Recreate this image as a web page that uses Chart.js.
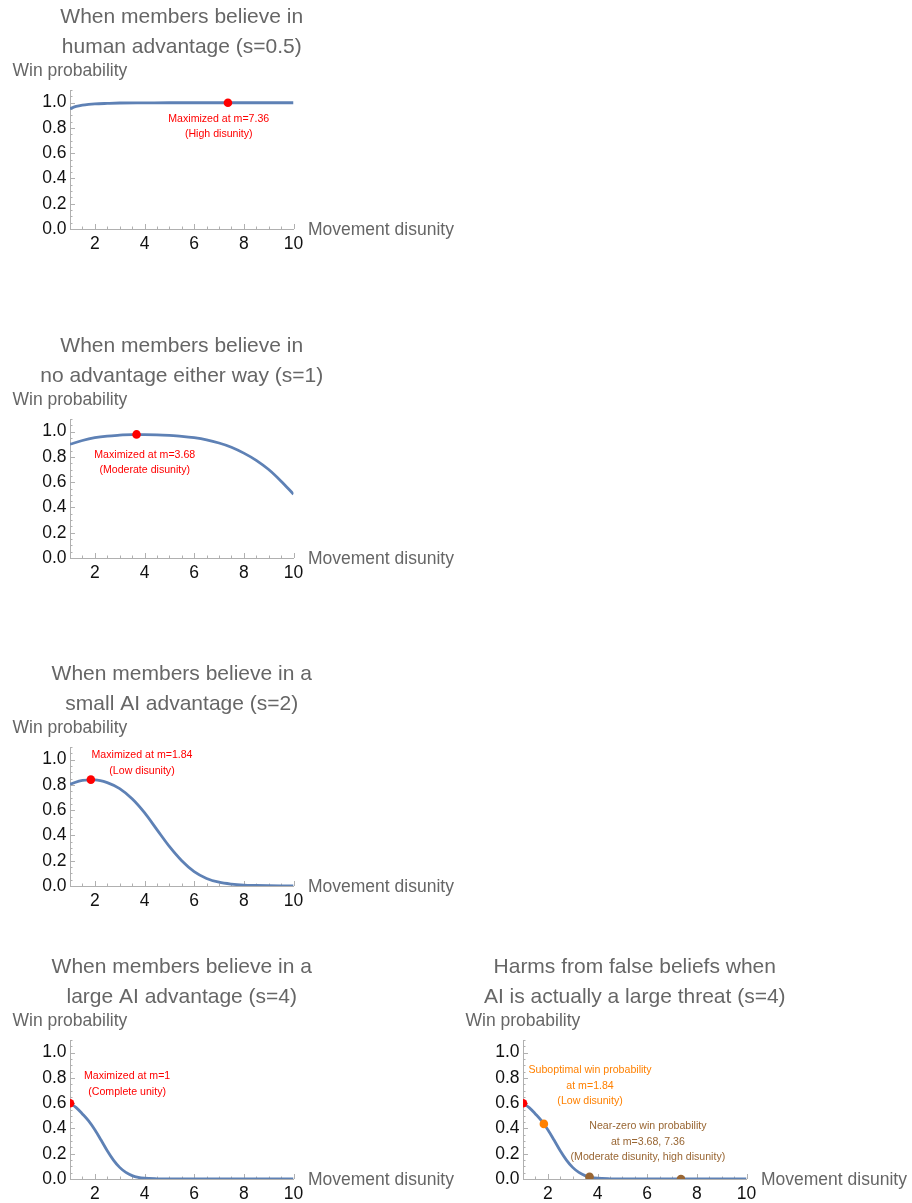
<!DOCTYPE html>
<html>
<head>
<meta charset="utf-8">
<script src="https://cdn.jsdelivr.net/npm/chart.js@4.4.1/dist/chart.umd.min.js"></script>
<style>
  html, body { margin: 0; padding: 0; background: #ffffff; width: 912px; height: 1203px; overflow: hidden; }
  .panel { position: absolute; width: 459px; height: 253px; }
  canvas { display: block; }
</style>
</head>
<body>
<div class="panel" style="left:0px;top:0px"><canvas id="c1" width="459" height="253"></canvas></div>
<div class="panel" style="left:0px;top:329px"><canvas id="c2" width="459" height="253"></canvas></div>
<div class="panel" style="left:0px;top:657px"><canvas id="c3" width="459" height="253"></canvas></div>
<div class="panel" style="left:0px;top:950px"><canvas id="c4" width="459" height="253"></canvas></div>
<div class="panel" style="left:453px;top:950px"><canvas id="c5" width="459" height="253"></canvas></div>
<script>
// ---------------- DATA ----------------
const xTickLabels = [2, 4, 6, 8, 10];
const yTickLabels = [0, 0.2, 0.4, 0.6, 0.8, 1.0];

// s = 0.5 (belief: human advantage)
const mS05   = [1, 1.25, 1.5, 1.75, 2, 2.5, 3, 4, 5, 6, 7, 8, 9, 10];
const winS05 = [0.952, 0.970, 0.980, 0.986, 0.990, 0.994, 0.997, 0.998, 0.999, 0.999, 0.999, 0.999, 0.999, 0.999];

// s = 1 (belief: no advantage)
const mS1   = [1, 1.5, 2, 2.5, 3, 3.5, 4, 4.5, 5, 5.5, 6, 6.5, 7, 7.5, 8, 8.5, 9, 9.5, 10];
const winS1 = [0.900, 0.930, 0.952, 0.965, 0.972, 0.977, 0.977, 0.975, 0.970, 0.963, 0.952, 0.935, 0.910, 0.877, 0.830, 0.773, 0.700, 0.608, 0.505];

// s = 2 (belief: small AI advantage)
const mS2   = [1, 1.5, 2, 2.5, 3, 3.5, 4, 4.5, 5, 5.5, 6, 6.5, 7, 7.5, 8, 8.5, 9, 9.5, 10];
const winS2 = [0.805, 0.836, 0.840, 0.818, 0.770, 0.690, 0.580, 0.446, 0.313, 0.200, 0.114, 0.060, 0.030, 0.015, 0.007, 0.004, 0.002, 0.001, 0.0005];

// s = 4 (belief / reality: large AI advantage)
const mS4   = [1, 1.25, 1.5, 1.75, 2, 2.25, 2.5, 2.75, 3, 3.25, 3.5, 3.75, 4, 4.5, 5, 6, 7, 8, 9, 10];
const winS4 = [0.600, 0.565, 0.515, 0.460, 0.390, 0.308, 0.224, 0.150, 0.092, 0.052, 0.027, 0.013, 0.006, 0.0015, 0.0004, 0.0001, 0, 0, 0, 0];

// optimum markers for each belief
const optimalM   = [7.36, 3.68, 1.84, 1];
const optimalWin = [0.999, 0.978, 0.842, 0.600];

// harms panel: outcomes under actual s=4 when acting on false beliefs
const suboptimalM   = [1.84];
const suboptimalWin = [0.436];
const nearZeroM     = [3.68, 7.36];
const nearZeroWin   = [0.018, 0.000];

const titles = [
  ["When members believe in", "human advantage (s=0.5)"],
  ["When members believe in", "no advantage either way (s=1)"],
  ["When members believe in a", "small AI advantage (s=2)"],
  ["When members believe in a", "large AI advantage (s=4)"],
  ["Harms from false beliefs when", "AI is actually a large threat (s=4)"]
];
const yAxisLabel = "Win probability";
const xAxisLabel = "Movement disunity";

// ---------------- STYLE ----------------
const FONT = "'Liberation Sans', Arial, Helvetica, sans-serif";
const GRAY_TEXT = '#666666';
const AXIS_COLOR = '#b0b0b0';
const CURVE = '#5e81b5';
const RED = '#ff0000';
const ORANGE = '#ff8000';
const BROWN = '#996633';

const decorPlugin = {
  id: 'decor',
  beforeDatasetsDraw(chart) {
    const { ctx, chartArea, scales: { x, y } } = chart;
    ctx.save();
    ctx.strokeStyle = AXIS_COLOR;
    ctx.lineWidth = 1;
    for (let i = 0; i <= 18; i++) {
      const v = 1 + i * 0.5;
      const px = Math.round(x.getPixelForValue(v)) + 0.5;
      const major = xTickLabels.indexOf(v) >= 0;
      const len = major ? 5 : 2.5;
      ctx.beginPath();
      ctx.moveTo(px, chartArea.bottom);
      ctx.lineTo(px, chartArea.bottom - len);
      ctx.stroke();
    }
    for (let i = 0; i <= 22; i++) {
      const v = i * 0.05;
      const py = Math.round(y.getPixelForValue(v)) + 0.5;
      const major = (i % 4 === 0) && v <= 1.0001;
      const len = major ? 5 : 2.5;
      ctx.beginPath();
      ctx.moveTo(chartArea.left, py);
      ctx.lineTo(chartArea.left + len, py);
      ctx.stroke();
    }
    ctx.restore();
  },
  afterDraw(chart, args, opts) {
    const { ctx, chartArea, scales: { x, y } } = chart;
    ctx.save();
    // title
    ctx.fillStyle = GRAY_TEXT;
    ctx.font = `21px ${FONT}`;
    ctx.textAlign = 'center';
    ctx.textBaseline = 'middle';
    const tcx = (chartArea.left + chartArea.right) / 2;
    (opts.title || []).forEach((t, i) => ctx.fillText(t, tcx, 17.5 + i * 30));
    // axis labels
    ctx.font = `17.5px ${FONT}`;
    ctx.textBaseline = 'alphabetic';
    ctx.textAlign = 'left';
    ctx.fillText(yAxisLabel, 12.5, chartArea.top - 14);
    ctx.fillText(xAxisLabel, chartArea.right + 14.5, chartArea.bottom + 6);
    // annotations
    (opts.notes || []).forEach(n => {
      ctx.fillStyle = n.color;
      ctx.font = `10.6px ${FONT}`;
      ctx.textAlign = 'center';
      ctx.textBaseline = 'middle';
      const cx = x.getPixelForValue(n.m);
      const cy = y.getPixelForValue(n.p);
      n.lines.forEach((t, i) => ctx.fillText(t, cx, cy + i * 15.5));
    });
    ctx.restore();
  }
};

function zip(ms, ps) { return ms.map((m, i) => ({ x: m, y: ps[i] })); }

function makeChart(id, titleLines, curveM, curveWin, markers, notes) {
  const markerData = [];
  const markerColors = [];
  markers.forEach(g => {
    g.m.forEach((m, i) => { markerData.push({ x: m, y: g.p[i] }); markerColors.push(g.color); });
  });
  new Chart(document.getElementById(id), {
    type: 'scatter',
    data: {
      datasets: [
        {
          data: markerData,
          showLine: false,
          pointRadius: 4.3,
          pointBorderWidth: 0,
          pointBackgroundColor: markerColors,
          pointBorderColor: markerColors,
          order: 0
        },
        {
          data: zip(curveM, curveWin),
          showLine: true,
          borderColor: CURVE,
          borderWidth: 2.8,
          pointRadius: 0,
          fill: false,
          cubicInterpolationMode: 'monotone',
          order: 1
        }
      ]
    },
    options: {
      responsive: false,
      animation: false,
      events: [],
      layout: { padding: { top: 90, left: 0, right: 165.5, bottom: 0 } },
      plugins: {
        legend: { display: false },
        tooltip: { enabled: false },
        title: { display: false },
        decor: { notes: notes, title: titleLines }
      },
      scales: {
        x: {
          type: 'linear',
          min: 1, max: 10,
          afterBuildTicks: s => { s.ticks = xTickLabels.map(v => ({ value: v })); },
          afterFit: s => { s.height = 24; },
          grid: { display: false, drawTicks: false },
          border: { display: true, color: AXIS_COLOR, width: 1 },
          ticks: { color: '#111111', font: { family: FONT, size: 17.5 }, padding: 5, maxRotation: 0, autoSkip: false, callback: v => String(v) }
        },
        y: {
          type: 'linear',
          min: 0, max: 1.1,
          afterBuildTicks: s => { s.ticks = yTickLabels.map(v => ({ value: v })); },
          afterFit: s => { s.width = 70; },
          grid: { display: false, drawTicks: false },
          border: { display: true, color: AXIS_COLOR, width: 1 },
          ticks: { color: '#111111', font: { family: FONT, size: 17.5 }, padding: 3.5, autoSkip: false, callback: v => Number(v).toFixed(1) }
        }
      }
    },
    plugins: [decorPlugin]
  });
}

makeChart('c1', titles[0], mS05, winS05,
  [{ m: [optimalM[0]], p: [optimalWin[0]], color: RED }],
  [{ m: 6.99, p: 0.870, color: RED, lines: ["Maximized at m=7.36", "(High disunity)"] }]);

makeChart('c2', titles[1], mS1, winS1,
  [{ m: [optimalM[1]], p: [optimalWin[1]], color: RED }],
  [{ m: 4.01, p: 0.817, color: RED, lines: ["Maximized at m=3.68", "(Moderate disunity)"] }]);

makeChart('c3', titles[2], mS2, winS2,
  [{ m: [optimalM[2]], p: [optimalWin[2]], color: RED }],
  [{ m: 3.90, p: 1.035, color: RED, lines: ["Maximized at m=1.84", "(Low disunity)"] }]);

makeChart('c4', titles[3], mS4, winS4,
  [{ m: [optimalM[3]], p: [optimalWin[3]], color: RED }],
  [{ m: 3.30, p: 0.812, color: RED, lines: ["Maximized at m=1", "(Complete unity)"] }]);

makeChart('c5', titles[4], mS4, winS4,
  [
    { m: nearZeroM, p: nearZeroWin, color: BROWN },
    { m: suboptimalM, p: suboptimalWin, color: ORANGE },
    { m: [optimalM[3]], p: [optimalWin[3]], color: RED }
  ],
  [
    { m: 3.70, p: 0.861, color: ORANGE, lines: ["Suboptimal win probability", "at m=1.84", "(Low disunity)"] },
    { m: 6.03, p: 0.416, color: BROWN, lines: ["Near-zero win probability", "at m=3.68, 7.36", "(Moderate disunity, high disunity)"] }
  ]);
</script>
</body>
</html>
